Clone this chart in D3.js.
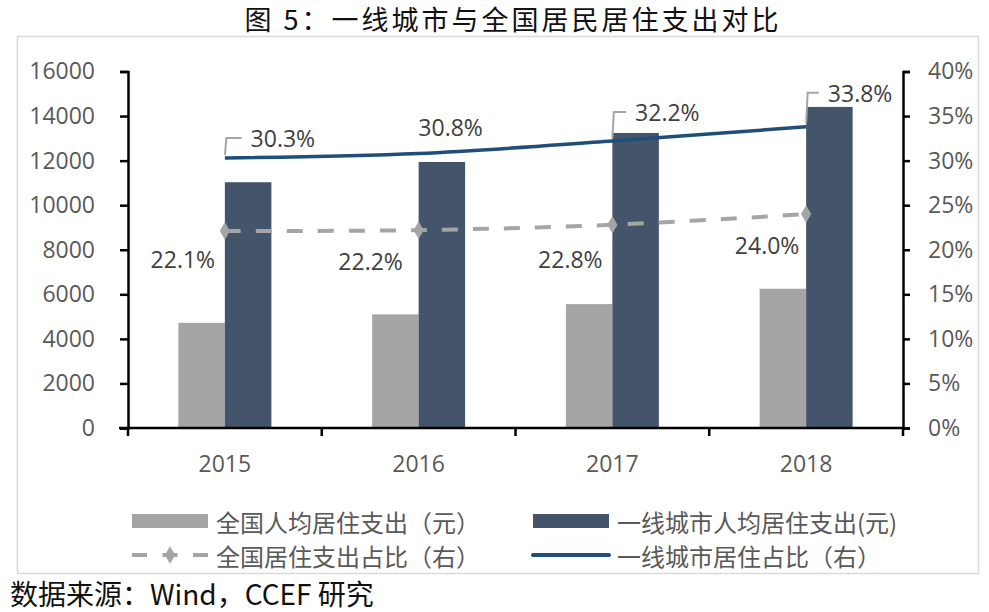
<!DOCTYPE html>
<html><head><meta charset="utf-8">
<script src="https://cdn.jsdelivr.net/npm/d3@7"></script>
<style>
html,body{margin:0;padding:0;background:#fff;}
svg{display:block;}
</style></head>
<body>
<svg id="chart" width="989" height="612"></svg>
<script>
// ---- data ----
const years = ["2015", "2016", "2017", "2018"];
const nationalSpend = [4720, 5100, 5560, 6250];      // 全国人均居住支出（元）
const tier1Spend = [11030, 11940, 13240, 14410];     // 一线城市人均居住支出(元)
const nationalShare = [0.221, 0.222, 0.228, 0.240];  // 全国居住支出占比（右）
const tier1Share = [0.303, 0.308, 0.322, 0.338];     // 一线城市居住占比（右）
const leftTicks = [0, 2000, 4000, 6000, 8000, 10000, 12000, 14000, 16000];
const rightTicks = [0, 0.05, 0.10, 0.15, 0.20, 0.25, 0.30, 0.35, 0.40];
const seriesNames = ["全国人均居住支出（元）", "一线城市人均居住支出(元)", "全国居住支出占比（右）", "一线城市居住占比（右）"];
const titleText = "图 5：一线城市与全国居民居住支出对比";
const sourceText = "数据来源：Wind，CCEF 研究";

// ---- layout (label offsets relative to their points) ----
const tier1LabelOff = [[58, -20], [32, -26], [55, -29], [54, -34]];
const tier1Leader = [true, false, true, true];
const natLabelOff = [[-42, 28], [-48, 31], [-42, 34], [-39, 31]];

const C = {gray: "#A5A5A5", dark: "#44546A", blue: "#1F4E79", axis: "#000", tick: "#595959", label: "#404040"};
const numFont = "'Open Sans', 'Liberation Sans', sans-serif";
const cjkFont = "'Noto Sans CJK SC', sans-serif";

const svg = d3.select("#chart");
const L = 128, R = 903, T = 71.5, B = 428;

// border
svg.append("rect").attr("x", 17.5).attr("y", 36.5).attr("width", 961).attr("height", 537)
  .attr("fill", "none").attr("stroke", "#D9D9D9").attr("stroke-width", 1.5);

// title
svg.append("text").attr("x", 513).attr("y", 18).attr("text-anchor", "middle")
  .attr("dominant-baseline", "central").attr("font-family", cjkFont).attr("font-size", 27)
  .attr("letter-spacing", 3).attr("fill", "#111").text(titleText);

// scales
const x = d3.scaleBand().domain(years).range([L, R]).padding(0);
const bw = x.bandwidth();
const barW = 46.5;
const x1 = d3.scaleBand().domain(["nat", "tier1"]).range([bw / 2 - barW, bw / 2 + barW]).padding(0);
const yL = d3.scaleLinear().domain([0, 16000]).range([B, T]);
const yR = d3.scaleLinear().domain([0, 0.4]).range([B, T]);

// bars
const g = svg.append("g");
g.selectAll("rect.nat").data(years).join("rect").attr("class", "nat")
  .attr("x", d => x(d) + x1("nat")).attr("width", x1.bandwidth())
  .attr("y", (d, i) => yL(nationalSpend[i])).attr("height", (d, i) => B - yL(nationalSpend[i]))
  .attr("fill", C.gray);
g.selectAll("rect.tier1").data(years).join("rect").attr("class", "tier1")
  .attr("x", d => x(d) + x1("tier1")).attr("width", x1.bandwidth())
  .attr("y", (d, i) => yL(tier1Spend[i])).attr("height", (d, i) => B - yL(tier1Spend[i]))
  .attr("fill", C.dark);

// axes
function styleAxis(sel) {
  sel.select(".domain").attr("stroke", C.axis).attr("stroke-width", 2.5);
  sel.selectAll(".tick line").attr("stroke", C.axis).attr("stroke-width", 2.5);
  sel.selectAll(".tick text").attr("fill", C.tick).attr("font-family", numFont).attr("font-size", 23);
}
const axL = svg.append("g").attr("transform", `translate(${L},0)`)
  .call(d3.axisLeft(yL).tickValues(leftTicks).tickFormat(d3.format("d")).tickSize(8).tickPadding(25).tickSizeOuter(8));
styleAxis(axL);
const axR = svg.append("g").attr("transform", `translate(${R},0)`)
  .call(d3.axisRight(yR).tickValues(rightTicks).tickFormat(d3.format(".0%")).tickSize(7).tickPadding(18).tickSizeOuter(7));
styleAxis(axR);

// bottom axis
const axB = svg.append("g").attr("transform", `translate(0,${B})`);
axB.append("line").attr("x1", 119).attr("x2", R + 2).attr("stroke", C.axis).attr("stroke-width", 2.5);
const boundaries = years.map(d => x(d)).concat([R]);
axB.selectAll("line.tk").data(boundaries).join("line").attr("class", "tk")
  .attr("x1", d => d).attr("x2", d => d).attr("y1", 0).attr("y2", 8)
  .attr("stroke", C.axis).attr("stroke-width", 2.5);
axB.selectAll("text").data(years).join("text")
  .attr("x", d => x(d) + bw / 2).attr("y", 35).attr("text-anchor", "middle")
  .attr("dominant-baseline", "central").attr("fill", C.tick)
  .attr("font-family", numFont).attr("font-size", 23).text(d => d);

// lines
const cx = d => x(d) + bw / 2;
const natLine = d3.line().x((d, i) => cx(years[i])).y(d => yR(d)).curve(d3.curveCatmullRom);
const tierLine = d3.line().x((d, i) => cx(years[i])).y(d => yR(d)).curve(d3.curveCatmullRom);

svg.append("path").datum(nationalShare).attr("d", natLine).attr("fill", "none")
  .attr("stroke", C.gray).attr("stroke-width", 4).attr("stroke-dasharray", "16,15");
svg.selectAll("path.dia").data(nationalShare).join("path").attr("class", "dia")
  .attr("transform", (d, i) => `translate(${cx(years[i])},${yR(d)})`)
  .attr("d", d3.symbol(d3.symbolDiamond, 90)).attr("fill", C.gray);

svg.append("path").datum(tier1Share).attr("d", tierLine).attr("fill", "none")
  .attr("stroke", C.blue).attr("stroke-width", 3.5);

// data labels
const pct = d3.format(".1%");
tier1Share.forEach((v, i) => {
  const px = cx(years[i]), py = yR(v);
  const lx = px + tier1LabelOff[i][0], ly = py + tier1LabelOff[i][1];
  const t = svg.append("text").attr("x", lx).attr("y", ly).attr("text-anchor", "middle")
    .attr("dominant-baseline", "central").attr("fill", C.label)
    .attr("font-family", numFont).attr("font-size", 23).text(pct(v));
  if (tier1Leader[i]) {
    const w = t.node().getComputedTextLength();
    const left = lx - w / 2 - 9;
    svg.append("path").attr("d", `M${px},${py - 3}L${px + 1.5},${ly}L${left},${ly}`)
      .attr("fill", "none").attr("stroke", C.gray).attr("stroke-width", 2);
  }
});
nationalShare.forEach((v, i) => {
  const px = cx(years[i]), py = yR(v);
  svg.append("text").attr("x", px + natLabelOff[i][0]).attr("y", py + natLabelOff[i][1])
    .attr("text-anchor", "middle").attr("dominant-baseline", "central").attr("fill", C.label)
    .attr("font-family", numFont).attr("font-size", 23).text(pct(v));
});

// legend
const leg = svg.append("g");
const legPos = [[132, 521], [533, 521], [132, 555], [533, 555]];
leg.append("rect").attr("x", legPos[0][0]).attr("y", legPos[0][1] - 7).attr("width", 76).attr("height", 14).attr("fill", C.gray);
leg.append("rect").attr("x", legPos[1][0]).attr("y", legPos[1][1] - 7).attr("width", 76).attr("height", 14).attr("fill", C.dark);
leg.append("line").attr("x1", legPos[2][0]).attr("x2", legPos[2][0] + 76).attr("y1", legPos[2][1]).attr("y2", legPos[2][1])
  .attr("stroke", C.gray).attr("stroke-width", 4).attr("stroke-dasharray", "15,15.5");
leg.append("path").attr("transform", `translate(${legPos[2][0] + 38},${legPos[2][1]})`)
  .attr("d", d3.symbol(d3.symbolDiamond, 90)).attr("fill", C.gray);
leg.append("line").attr("x1", legPos[3][0]).attr("x2", legPos[3][0] + 76).attr("y1", legPos[3][1]).attr("y2", legPos[3][1])
  .attr("stroke", C.blue).attr("stroke-width", 4).attr("stroke-linecap", "round");
seriesNames.forEach((s, i) => {
  leg.append("text").attr("x", legPos[i][0] + 84).attr("y", legPos[i][1])
    .attr("dominant-baseline", "central").attr("fill", C.tick)
    .attr("font-family", cjkFont).attr("font-size", 24).text(s);
});

// source
svg.append("text").attr("x", 10).attr("y", 593).attr("dominant-baseline", "central")
  .attr("font-family", cjkFont).attr("font-size", 28).attr("fill", "#111").text(sourceText);
</script>
</body></html>
